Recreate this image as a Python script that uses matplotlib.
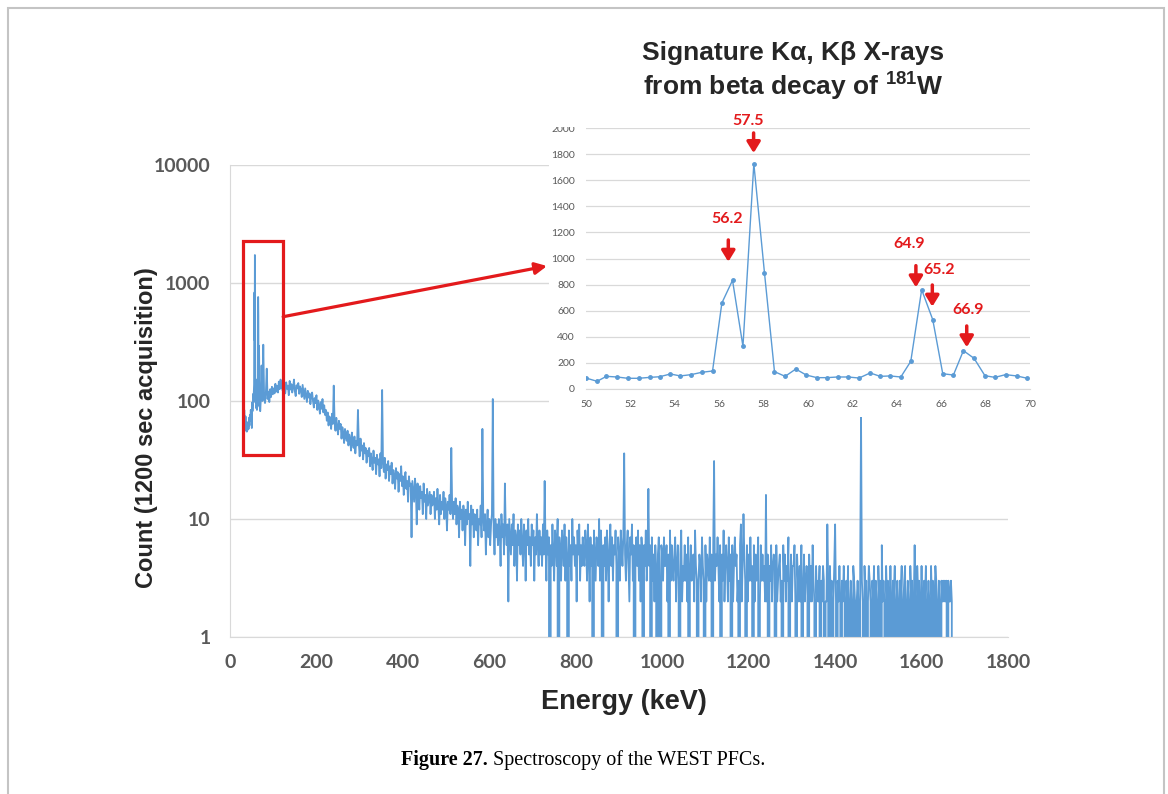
import matplotlib.pyplot as plt
import numpy as np
from matplotlib.patches import Rectangle
from matplotlib.ticker import NullLocator

plt.rcParams['font.family'] = ['Liberation Sans', 'DejaVu Sans']
plt.rcParams['mathtext.fontset'] = 'custom'
plt.rcParams['mathtext.rm'] = 'Liberation Sans:bold'
plt.rcParams['mathtext.bf'] = 'Liberation Sans:bold'
plt.rcParams['mathtext.default'] = 'bf'

# ---- gamma spectrum, 1200 s acquisition ----
# 31-49 keV, 1 keV bins
low_start_kev = 31
low_counts = [78, 64, 84, 70, 60, 74, 56, 62, 55, 66, 57, 63, 58, 72, 62, 76, 68, 84, 76]

# W K x-ray region, native detector channels
xray_kev = [50.00, 50.50, 50.92, 51.40, 51.88, 52.37, 52.87, 53.32, 53.80, 54.25,
            54.73, 55.22, 55.70, 56.12, 56.60, 57.07, 57.56, 58.04, 58.49, 58.97,
            59.45, 59.92, 60.40, 60.85, 61.33, 61.81, 62.30, 62.80, 63.25, 63.70,
            64.18, 64.63, 65.12, 65.62, 66.07, 66.55, 67.00, 67.48, 67.97, 68.42,
            68.90, 69.40, 69.88]
xray_counts = [84, 59, 97, 92, 82, 82, 89, 94, 115, 100,
               110, 128, 138, 659, 833, 327, 1727, 889, 133, 97,
               153, 107, 87, 87, 92, 92, 84, 123, 97, 100,
               92, 212, 761, 531, 117, 107, 294, 235, 102, 89,
               110, 100, 82]

# 71-119 keV, 2 keV bins
mid_start_kev = 71
mid_counts = [98, 200, 100, 300, 108, 96, 118, 188, 104, 120,
              98, 126, 108, 132, 114, 128, 116, 140, 120, 134,
              118, 146, 126, 152, 128]

# 120-998 keV, 2 keV bins
cont_start_kev = 120
cont_counts = [
    138, 122, 150, 131, 116, 144, 127, 135, 112, 148, 125, 139, 118, 130, 152, 121, 110, 136, 128, 142, 115, 133, 124, 108, 137,
    120, 104, 128, 112, 98, 122, 107, 116, 94, 110, 118, 100, 88, 106, 96, 112, 84, 101, 92, 78, 98, 86, 104, 80, 92,
    76, 84, 68, 80, 62, 74, 70, 58, 78, 64, 135, 66, 56, 72, 60, 52, 68, 58, 64, 48, 60, 54, 44, 58, 50,
    46, 56, 42, 52, 48, 38, 54, 44, 40, 50, 36, 46, 42, 84, 44, 34, 48, 38, 42, 32, 44, 36, 40, 30, 38,
    34, 40, 28, 36, 31, 26, 38, 30, 33, 24, 35, 29, 32, 23, 36, 27, 124, 30, 25, 33, 22, 29, 26, 31, 21,
    28, 24, 30, 20, 26, 23, 18, 27, 22, 25, 17, 24, 21, 28, 19, 23, 16, 22, 25, 18, 21, 14, 23, 19, 20,
    7, 21, 17, 14, 22, 18, 9, 20, 16, 12, 19, 15, 17, 11, 20, 14, 16, 10, 18, 13, 15, 17, 11, 16, 13,
    14, 17, 10, 15, 12, 18, 13, 9, 16, 11, 14, 12, 17, 10, 15, 13, 8, 14, 12, 16, 11, 40, 13, 10, 14,
    11, 15, 9, 13, 12, 7, 14, 10, 12, 8, 13, 11, 6, 12, 9, 14, 10, 11, 4, 13, 9, 12, 7, 11, 10,
    8, 12, 6, 10, 9, 13, 7, 58, 10, 8, 11, 5, 9, 12, 7, 10, 6, 9, 11, 104, 8, 5, 10, 7, 9,
    6, 10, 8, 4, 11, 7, 9, 5, 20, 8, 6, 9, 2, 10, 7, 5, 9, 6, 11, 4, 8, 7, 3, 9, 6,
    8, 5, 10, 6, 4, 9, 7, 3, 8, 6, 10, 5, 7, 4, 9, 6, 8, 3, 7, 5, 11, 6, 4, 8, 5,
    7, 4, 9, 5, 21, 6, 3, 8, 5, 7, 0, 6, 4, 9, 5, 3, 8, 6, 4, 10, 0, 7, 5, 3, 8,
    6, 4, 9, 3, 7, 5, 0, 8, 4, 6, 3, 10, 5, 7, 4, 6, 2, 8, 5, 9, 3, 6, 4, 7, 5,
    4, 8, 6, 3, 9, 5, 2, 7, 4, 6, 0, 8, 5, 3, 7, 6, 4, 10, 3, 8, 5, 0, 6, 4, 7,
    3, 8, 5, 2, 6, 9, 4, 7, 3, 6, 5, 8, 4, 0, 7, 5, 3, 8, 6, 4, 7, 36, 5, 3, 6,
    8, 4, 2, 7, 5, 9, 3, 6, 0, 5, 7, 4, 8, 3, 6, 2, 7, 5, 0, 6, 4, 8, 3, 5, 18,
    4, 6, 0, 7, 3, 5, 2, 6, 4, 0, 5, 7, 3, 0, 6,
]

# 1000-1672 keV, 2 keV bins
tail_start_kev = 1000
tail_counts = [
    5, 3, 7, 4, 4, 6, 2, 5, 0, 8, 3, 6, 4, 3, 5, 7, 2, 4, 6, 3, 0, 5, 8, 2, 4,
    3, 6, 3, 5, 2, 7, 0, 4, 6, 3, 4, 5, 2, 8, 4, 3, 0, 3, 5, 4, 2, 7, 4, 3, 0,
    6, 2, 5, 4, 3, 7, 3, 5, 0, 6, 31, 3, 5, 4, 7, 4, 2, 6, 0, 5, 3, 8, 2, 4, 6,
    4, 2, 7, 3, 5, 0, 6, 2, 4, 7, 4, 5, 2, 3, 0, 6, 9, 2, 4, 11, 5, 3, 0, 6, 2,
    5, 3, 7, 3, 4, 0, 6, 2, 5, 3, 4, 7, 0, 2, 6, 3, 5, 3, 4, 2, 16, 2, 5, 0, 4,
    3, 6, 2, 4, 5, 4, 0, 6, 2, 3, 4, 5, 2, 3, 0, 6, 3, 5, 2, 4, 3, 7, 0, 3, 5,
    2, 4, 4, 6, 2, 0, 5, 3, 2, 4, 2, 6, 0, 3, 5, 2, 3, 4, 3, 0, 5, 2, 4, 2, 6,
    3, 2, 0, 4, 2, 3, 2, 4, 0, 3, 2, 4, 3, 0, 2, 2, 9, 3, 0, 4, 2, 3, 0, 2, 4,
    9, 2, 0, 3, 2, 4, 2, 0, 3, 2, 4, 2, 0, 3, 2, 4, 0, 2, 3, 2, 0, 4, 3, 2, 0,
    2, 3, 2, 0, 4, 74, 3, 2, 0, 4, 2, 3, 0, 2, 4, 3, 2, 0, 3, 2, 4, 0, 3, 2, 0,
    4, 2, 3, 0, 6, 2, 3, 2, 0, 4, 2, 3, 0, 2, 4, 2, 0, 3, 2, 4, 0, 2, 3, 2, 0,
    3, 2, 4, 0, 2, 3, 4, 0, 2, 3, 2, 0, 4, 2, 3, 0, 2, 6, 2, 0, 4, 2, 3, 0, 2,
    4, 2, 0, 3, 2, 4, 0, 2, 3, 2, 0, 4, 2, 3, 0, 2, 4, 3, 0, 2, 3, 2, 0, 3, 2,
    3, 2, 3, 2, 3, 0, 3, 2, 2, 3, 2, 0,
]

# labelled x-ray lines (keV)
peak_labels = ['57.5', '56.2', '64.9', '65.2', '66.9']

W, H = 1168, 794
BLUE = '#5b9bd5'
RED = '#e31a1c'
GRID = '#d9d9d9'
TICK = '#595959'
TEXT = '#262626'


def fx(px):
    return px / W


def fy(py):
    return 1 - py / H


energy = np.concatenate([
    low_start_kev + np.arange(len(low_counts)),
    xray_kev,
    mid_start_kev + 2 * np.arange(len(mid_counts)),
    cont_start_kev + 2 * np.arange(len(cont_counts)),
    tail_start_kev + 2 * np.arange(len(tail_counts)),
])
counts = np.concatenate([low_counts, xray_counts, mid_counts,
                         cont_counts, tail_counts]).astype(float)

fig = plt.figure(figsize=(W / 100, H / 100), dpi=100)

# main log-scale spectrum
ax = fig.add_axes([fx(230), fy(637), (1008 - 230) / W, (637 - 165) / H])
ax.plot(energy, counts, color=BLUE, lw=1.3, zorder=2)
ax.set_yscale('log', nonpositive='clip')
ax.set_xlim(0, 1800)
ax.set_ylim(1, 10000)
ax.set_xticks(range(0, 1801, 200))
ax.set_yticks([1, 10, 100, 1000, 10000])
ax.set_yticklabels(['1', '10', '100', '1000', '10000'])
ax.yaxis.set_minor_locator(NullLocator())
ax.tick_params(length=0, labelsize=14, labelcolor=TICK)
ax.tick_params(axis='y', pad=14)
ax.tick_params(axis='x', pad=12)
for lbl in ax.get_xticklabels() + ax.get_yticklabels():
    lbl.set_fontfamily('Lato')
    lbl.set_fontweight('bold')
ax.grid(axis='y', color=GRID, lw=1)
ax.set_axisbelow(True)
for side in ('top', 'right'):
    ax.spines[side].set_visible(False)
for side in ('left', 'bottom'):
    ax.spines[side].set_color(GRID)

# zoom box and pointer
ax.add_patch(Rectangle((29, 34.7), 94, 2281 - 34.7, fill=False,
                       edgecolor=RED, lw=2.3, zorder=3))
ax.annotate('', xy=(fx(547), fy(266)), xycoords='figure fraction',
            xytext=(123, 518), textcoords='data',
            arrowprops=dict(arrowstyle='-|>,head_width=0.35,head_length=0.7',
                            color=RED, lw=2.3, shrinkA=0, shrinkB=0),
            annotation_clip=False)

fig.text(fx(147), fy(428), 'Count (1200 sec acquisition)', rotation=90,
         fontsize=17, fontweight='bold', color=TEXT, ha='center', va='center')
fig.text(fx(624), fy(702), 'Energy (keV)', fontsize=19.5, fontweight='bold',
         color=TEXT, ha='center', va='center')

# white panel behind the zoom
fig.patches.append(Rectangle((fx(549), fy(417)), (1045 - 549) / W, (417 - 124) / H,
                             transform=fig.transFigure, facecolor='white',
                             edgecolor='none', zorder=1))

# zoom on the W K x-rays
axi = fig.add_axes([fx(586), fy(389), 444 / W, 261 / H])
axi.set_zorder(2)
axi.patch.set_alpha(0)
axi.plot(xray_kev, xray_counts, color=BLUE, lw=1.0, marker='o', ms=2.5)
axi.set_xlim(50, 70)
axi.set_ylim(0, 2000)
axi.set_xticks(range(50, 71, 2))
axi.set_yticks(range(0, 2001, 200))
axi.tick_params(length=0, labelsize=7.5, labelcolor=TICK, pad=8)
for lbl in axi.get_xticklabels() + axi.get_yticklabels():
    lbl.set_fontfamily('Lato')
axi.grid(axis='y', color=GRID, lw=0.9)
axi.set_axisbelow(True)
for side in ('top', 'right', 'left'):
    axi.spines[side].set_visible(False)
axi.spines['bottom'].set_color(GRID)

# arrow x, tail, tip, label x, label y
marks = [
    (57.55, 1962, 1808, 57.29, 2056),
    (56.41, 1142, 975, 56.37, 1300),
    (64.86, 945, 779, 64.56, 1109),
    (65.60, 797, 631, 65.90, 912),
    (67.15, 483, 320, 67.22, 605),
]
for text, (xa, tail, tip, xl, yl) in zip(peak_labels, marks):
    axi.annotate('', xy=(xa, tip), xytext=(xa, tail),
                 arrowprops=dict(arrowstyle='-|>,head_width=0.4,head_length=0.65',
                                 color=RED, lw=2.5, shrinkA=0, shrinkB=0),
                 annotation_clip=False)
    axi.text(xl, yl, text, color=RED, fontsize=11.5, fontfamily='Lato',
             fontweight='bold', ha='center', va='center', clip_on=False)

# top of the zoom panel is trimmed
fig.patches.append(Rectangle((fx(540), fy(126.5)), 48 / W, 20 / H,
                             transform=fig.transFigure, facecolor='white',
                             edgecolor='none', zorder=5))

fig.text(fx(793), fy(53), 'Signature K\u03b1, K\u03b2 X-rays', fontsize=19,
         fontweight='bold', color=TEXT, ha='center', va='center')
fig.text(fx(793), fy(87), r'from beta decay of $^{181}$W', fontsize=19,
         fontweight='bold', color=TEXT, ha='center', va='center')

# caption
fig.text(fx(488), fy(760), 'Figure 27.', fontsize=14.5, fontweight='bold',
         family='Liberation Serif', ha='right', va='center', color='black')
fig.text(fx(493), fy(760), 'Spectroscopy of the WEST PFCs.', fontsize=14.5,
         family='Liberation Serif', ha='left', va='center', color='black')

# page frame
fig.patches.append(Rectangle((fx(8), -0.02), (1164 - 8) / W, fy(8) + 0.02,
                             transform=fig.transFigure, fill=False,
                             edgecolor='#c4c4c4', lw=1.5, zorder=6))

fig.savefig('out.png', dpi=100)
